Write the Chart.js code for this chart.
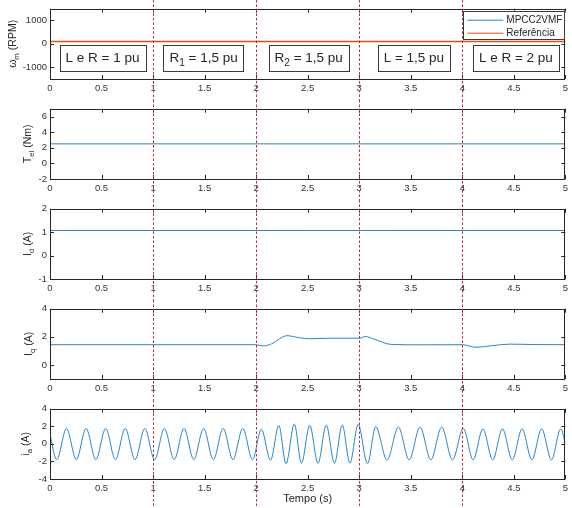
<!DOCTYPE html>
<html>
<head>
<meta charset="utf-8">
<script src="https://cdn.jsdelivr.net/npm/chart.js@4.4.1/dist/chart.umd.min.js"></script>
<style>
    body { margin: 0; background: #fff; }
    #wrap { position: relative; width: 572px; height: 508px; }
    canvas { position: absolute; left: 0; display: block; }
</style>
</head>
<body>
<div id="wrap">
    <canvas id="cWm" width="572" height="100" style="top:0"></canvas>
    <canvas id="cTel" width="572" height="100" style="top:100px"></canvas>
    <canvas id="cId" width="572" height="100" style="top:200px"></canvas>
    <canvas id="cIq" width="572" height="100" style="top:300px"></canvas>
    <canvas id="cIa" width="572" height="108" style="top:400px"></canvas>
</div>
<script>
// eixo do tempo
const xTicks = [0, 0.5, 1, 1.5, 2, 2.5, 3, 3.5, 4, 4.5, 5];
const changeTimes = [1, 2, 3, 4];

// caixas de texto do primeiro gráfico
const regionLabels = ['L e R = 1 pu', 'R_1 = 1,5 pu', 'R_2 = 1,5 pu', 'L = 1,5 pu', 'L e R = 2 pu'];
const regionCenters = [0.51, 1.49, 2.51, 3.53, 4.52];
const regionLevel = -600;

const seriesNames = ['MPCC2VMF', 'Referência'];

// velocidade
const wmTicks = [-1000, 0, 1000];
const wmT = [0, 5];
const wmMpcc = [100, 100];
const wmRef = [100, 100];

// torque
const telTicks = [-2, 0, 2, 4, 6];
const telT = [0, 5];
const telV = [2.5, 2.5];

// Id
const idTicks = [-1, 0, 1, 2];
const idT = [0, 5];
const idV = [1.07, 1.07];

// Iq
const iqTicks = [0, 2, 4];
const iqT = [0, 2.0, 2.07, 2.15, 2.30, 2.42, 2.52, 2.70, 3.0, 3.06, 3.15, 3.31, 3.6, 4.0, 4.13, 4.3, 4.46, 4.7, 5];
const iqV = [1.44, 1.44, 1.35, 1.5, 2.08, 1.93, 1.86, 1.9, 1.9, 2.02, 1.82, 1.46, 1.43, 1.44, 1.26, 1.38, 1.48, 1.45, 1.44];

// corrente de fase a (picos e vales)
const iaTicks = [-4, -2, 0, 2, 4];
const iaT = [
    0, 0.065, 0.16, 0.255, 0.35, 0.445, 0.54, 0.635, 0.73, 0.825, 0.92,
    1.015, 1.11, 1.205, 1.30, 1.395, 1.49, 1.585, 1.68, 1.775, 1.87, 1.965,
    2.05, 2.14, 2.22, 2.29, 2.37, 2.44, 2.52, 2.60, 2.68, 2.76, 2.835, 2.91, 2.99,
    3.08, 3.16, 3.27, 3.38, 3.485, 3.59, 3.695, 3.80, 3.905, 4.01,
    4.105, 4.20, 4.295, 4.39, 4.485, 4.58, 4.675, 4.77, 4.865, 4.955, 5.0
];
const iaV = [
    1.05, -1.8, 1.75, -1.8, 1.75, -1.8, 1.75, -1.8, 1.75, -1.8, 1.75,
    -1.8, 1.75, -1.8, 1.75, -1.8, 1.75, -1.8, 1.75, -1.8, 1.75, -1.8,
    1.65, -1.85, 2.08, -2.25, 2.25, -2.2, 2.1, -2.2, 2.12, -2.2, 2.15, -2.2, 2.2,
    -2.25, 1.95, -1.85, 1.9, -1.82, 1.9, -1.82, 1.9, -1.82, 1.75,
    -1.82, 1.7, -1.82, 1.7, -1.82, 1.7, -1.82, 1.7, -1.82, 1.7, 0.1
];

const BLUE = '#2584cc';
const ORANGE = '#D95319';
const DASH = '#B52B4E';
const AXIS = '#262626';
const FONT = '"Liberation Sans", Arial, sans-serif';

Chart.defaults.font.family = FONT;
Chart.defaults.color = '#333';

const toPoints = (t, v) => t.map((x, i) => ({x: x, y: v[i]}));

// texto com subscritos: "R_1", "T_{el}"
function drawRich(ctx, text, cx, baseY, size) {
    const parts = [];
    let buf = '', i = 0;
    while (i < text.length) {
        if (text[i] === '_') {
            if (buf) parts.push([buf, false]);
            buf = '';
            if (text[i + 1] === '{') {
                const j = text.indexOf('}', i);
                parts.push([text.slice(i + 2, j), true]);
                i = j + 1;
            } else {
                parts.push([text[i + 1], true]);
                i += 2;
            }
        } else {
            buf += text[i];
            i++;
        }
    }
    if (buf) parts.push([buf, false]);

    const subSize = size * 0.75;
    let total = 0;
    parts.forEach(p => {
        ctx.font = (p[1] ? subSize : size) + 'px ' + FONT;
        p.push(ctx.measureText(p[0]).width);
        total += p[2];
    });
    let x = cx - total / 2;
    ctx.textAlign = 'left';
    ctx.textBaseline = 'alphabetic';
    parts.forEach(p => {
        ctx.font = (p[1] ? subSize : size) + 'px ' + FONT;
        ctx.fillText(p[0], x, p[1] ? baseY + size * 0.3 : baseY);
        x += p[2];
    });
    return total;
}

function measureRich(ctx, text, size) {
    ctx.save();
    ctx.globalAlpha = 0;
    const w = drawRich(ctx, text, 0, -1000, size);
    ctx.restore();
    return w;
}

// moldura, marcas internas e linhas tracejadas das mudanças
const framePlugin = {
    id: 'frame',
    afterDraw(chart) {
        const {ctx, chartArea: a, scales: {x, y}} = chart;
        ctx.save();
        ctx.strokeStyle = AXIS;
        ctx.lineWidth = 1;
        ctx.beginPath();
        x.ticks.forEach(t => {
            const px = Math.round(x.getPixelForValue(t.value)) + 0.5;
            ctx.moveTo(px, a.bottom); ctx.lineTo(px, a.bottom - 4);
            ctx.moveTo(px, a.top); ctx.lineTo(px, a.top + 4);
        });
        y.ticks.forEach(t => {
            const py = Math.round(y.getPixelForValue(t.value)) + 0.5;
            ctx.moveTo(a.left, py); ctx.lineTo(a.left + 4, py);
            ctx.moveTo(a.right, py); ctx.lineTo(a.right - 4, py);
        });
        ctx.stroke();
        ctx.strokeRect(Math.round(a.left) + 0.5, Math.round(a.top) + 0.5,
            Math.round(a.width) - 1, Math.round(a.height));

        ctx.strokeStyle = DASH;
        ctx.setLineDash([2.5, 2]);
        ctx.beginPath();
        changeTimes.forEach(v => {
            const px = Math.round(x.getPixelForValue(v)) + 0.5;
            ctx.moveTo(px, 0);
            ctx.lineTo(px, chart.height);
        });
        ctx.stroke();
        ctx.restore();
    }
};

const yTitlePlugin = {
    id: 'yTitle',
    afterDraw(chart, args, opts) {
        if (!opts.text) return;
        const {ctx, chartArea: a} = chart;
        ctx.save();
        ctx.fillStyle = AXIS;
        ctx.translate(opts.x, (a.top + a.bottom) / 2);
        ctx.rotate(-Math.PI / 2);
        drawRich(ctx, opts.text, 0, 0, 10.5);
        ctx.restore();
    }
};

const boxesPlugin = {
    id: 'boxes',
    afterDraw(chart) {
        const {ctx, scales: {x, y}} = chart;
        ctx.save();
        regionLabels.forEach((txt, i) => {
            const cx = x.getPixelForValue(regionCenters[i]);
            const cy = y.getPixelForValue(regionLevel);
            const w = measureRich(ctx, txt, 13.5) + 12;
            const h = 26;
            ctx.fillStyle = '#fff';
            ctx.fillRect(cx - w / 2, cy - h / 2, w, h);
            ctx.strokeStyle = '#3a3a3a';
            ctx.lineWidth = 1;
            ctx.strokeRect(Math.round(cx - w / 2) + 0.5, Math.round(cy - h / 2) + 0.5, Math.round(w), h);
            ctx.fillStyle = AXIS;
            drawRich(ctx, txt, cx, cy + 4.5, 13.5);
        });
        ctx.restore();
    }
};

const legendPlugin = {
    id: 'miniLegend',
    afterDraw(chart) {
        const {ctx, chartArea: a} = chart;
        const colors = [BLUE, ORANGE];
        const w = 102, h = 28;
        const left = a.right - w, top = a.top + 2;
        ctx.save();
        ctx.fillStyle = '#fff';
        ctx.fillRect(left, top, w, h);
        ctx.strokeStyle = '#3a3a3a';
        ctx.lineWidth = 1;
        ctx.strokeRect(Math.round(left) + 0.5, Math.round(top) + 0.5, w - 1, h);
        seriesNames.forEach((name, i) => {
            const ly = top + 9.5 + i * 13;
            ctx.strokeStyle = colors[i];
            ctx.beginPath();
            ctx.moveTo(left + 4, ly);
            ctx.lineTo(left + 40, ly);
            ctx.stroke();
            ctx.fillStyle = AXIS;
            ctx.font = '10px ' + FONT;
            ctx.textAlign = 'left';
            ctx.textBaseline = 'middle';
            ctx.fillText(name, left + 43, ly + 0.5);
        });
        ctx.restore();
    }
};

function line(label, t, v, color, order, width) {
    return {
        label: label,
        data: toPoints(t, v),
        borderColor: color,
        borderWidth: width || 1,
        pointRadius: 0,
        fill: false,
        cubicInterpolationMode: 'monotone',
        order: order
    };
}

function makePanel(canvasId, p) {
    return new Chart(document.getElementById(canvasId), {
        type: 'line',
        data: {datasets: p.datasets},
        options: {
            responsive: false,
            animation: false,
            events: [],
            layout: {padding: {top: 7, right: 4, left: 0, bottom: 0}},
            plugins: {
                legend: {display: false},
                tooltip: {enabled: false},
                yTitle: {text: p.yTitle, x: p.titleX}
            },
            scales: {
                x: {
                    type: 'linear',
                    min: 0,
                    max: 5,
                    afterBuildTicks: s => { s.ticks = xTicks.map(v => ({value: v})); },
                    afterFit: s => { s.height = p.xHeight; },
                    ticks: {
                        font: {size: 9.5},
                        padding: 4,
                        maxRotation: 0,
                        autoSkip: false,
                        callback: v => String(v)
                    },
                    grid: {display: false, drawTicks: false},
                    border: {display: false},
                    title: p.xTitle ? {
                        display: true,
                        text: p.xTitle,
                        font: {size: 11},
                        color: AXIS,
                        padding: {top: 0, bottom: 2}
                    } : {display: false}
                },
                y: {
                    min: p.yMin,
                    max: p.yMax,
                    afterBuildTicks: s => { s.ticks = p.yTicks.map(v => ({value: v})); },
                    afterFit: s => { s.width = 50; },
                    ticks: {
                        font: {size: 9.5},
                        padding: 3,
                        callback: v => String(v)
                    },
                    grid: {display: false, drawTicks: false},
                    border: {display: false}
                }
            }
        },
        plugins: [framePlugin, yTitlePlugin].concat(p.extra || [])
    });
}

makePanel('cWm', {
    datasets: [
        line(seriesNames[0], wmT, wmMpcc, BLUE, 1),
        line(seriesNames[1], wmT, wmRef, ORANGE, 0, 1.6)
    ],
    yMin: -1500, yMax: 1500, yTicks: wmTicks,
    yTitle: '\u03c9_m (RPM)', titleX: 16,
    xHeight: 21,
    extra: [boxesPlugin, legendPlugin]
});

makePanel('cTel', {
    datasets: [line('Tel', telT, telV, BLUE, 0)],
    yMin: -2, yMax: 7, yTicks: telTicks,
    yTitle: 'T_{el} (Nm)', titleX: 31,
    xHeight: 21
});

makePanel('cId', {
    datasets: [line('Id', idT, idV, BLUE, 0)],
    yMin: -1, yMax: 2, yTicks: idTicks,
    yTitle: 'I_d (A)', titleX: 31,
    xHeight: 21
});

makePanel('cIq', {
    datasets: [line('Iq', iqT, iqV, BLUE, 0)],
    yMin: -1, yMax: 4, yTicks: iqTicks,
    yTitle: 'I_q (A)', titleX: 32,
    xHeight: 21
});

makePanel('cIa', {
    datasets: [line('ia', iaT, iaV, BLUE, 0)],
    yMin: -4, yMax: 4, yTicks: iaTicks,
    yTitle: 'i_a (A)', titleX: 28.5,
    xHeight: 29,
    xTitle: 'Tempo (s)'
});
</script>
</body>
</html>
